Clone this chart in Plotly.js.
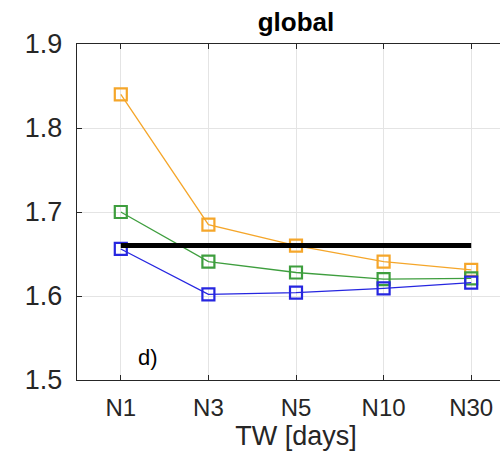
<!DOCTYPE html>
<html>
<head>
<meta charset="utf-8">
<script src="https://cdn.plot.ly/plotly-3.0.1.min.js"></script>
<style>
html,body{margin:0;padding:0;overflow:hidden;background:#fff;width:500px;height:454px;}
#chart{width:520px;height:454px;}
</style>
</head>
<body>
<div id="chart"></div>
<script>
const categories = ["N1", "N3", "N5", "N10", "N30"];
const orangeVals = [1.840, 1.685, 1.660, 1.641, 1.631];
const greenVals  = [1.700, 1.641, 1.628, 1.620, 1.621];
const blueVals   = [1.656, 1.602, 1.604, 1.609, 1.616];
const refVals    = [1.660, 1.660, 1.660, 1.660, 1.660];
const yTicks = [1.5, 1.6, 1.7, 1.8, 1.9];
const yTickText = ["1.5", "1.6", "1.7", "1.8", "1.9"];

function series(vals, color) {
  return {
    x: categories, y: vals, type: "scatter", mode: "lines+markers",
    line: {color: color, width: 1.3},
    marker: {symbol: "square-open", size: 12, color: color, line: {color: color, width: 2.2}},
    showlegend: false, hoverinfo: "skip"
  };
}

const traces = [
  series(orangeVals, "#F5A62A"),
  series(greenVals, "#3E9E3E"),
  series(blueVals, "#2626E0"),
  {x: categories, y: refVals, type: "scatter", mode: "lines",
   line: {color: "#000000", width: 5}, showlegend: false, hoverinfo: "skip"}
];

const layout = {
  width: 520, height: 454,
  margin: {l: 77, r: 5, t: 44, b: 74},
  paper_bgcolor: "#ffffff", plot_bgcolor: "#ffffff",
  font: {family: "Liberation Sans, Arial, sans-serif", color: "#262626"},
  title: {text: "<b>global</b>", font: {size: 26, color: "#000000"},
          x: 0.5, xref: "paper", y: 1 - 22/454, yref: "container", yanchor: "middle"},
  xaxis: {
    type: "category", categoryorder: "array", categoryarray: categories,
    range: [-0.5, 4.5],
    showgrid: true, gridcolor: "#e4e4e4", gridwidth: 1,
    showline: true, linecolor: "#262626", linewidth: 1.3, mirror: "ticks",
    ticks: "inside", ticklen: 5, tickcolor: "#262626",
    tickfont: {size: 24, color: "#262626"},
    ticklabelstandoff: 6,
    title: {text: "TW [days]", font: {size: 27, color: "#262626"}, standoff: 2},
    zeroline: false, fixedrange: true
  },
  yaxis: {
    range: [1.5, 1.9], tickvals: yTicks, ticktext: yTickText,
    showgrid: true, gridcolor: "#e4e4e4", gridwidth: 1,
    showline: true, linecolor: "#262626", linewidth: 1.3, mirror: "ticks",
    ticks: "inside", ticklen: 5, tickcolor: "#262626",
    tickfont: {size: 27, color: "#262626"},
    ticklabelstandoff: 8,
    zeroline: false, fixedrange: true
  },
  annotations: [{
    x: 0.31, y: 1.527, xref: "x", yref: "y", text: "d)", showarrow: false,
    font: {size: 22, color: "#000000"}, xanchor: "center", yanchor: "middle"
  }]
};

Plotly.newPlot("chart", traces, layout, {staticPlot: true, displayModeBar: false});
</script>
</body>
</html>
